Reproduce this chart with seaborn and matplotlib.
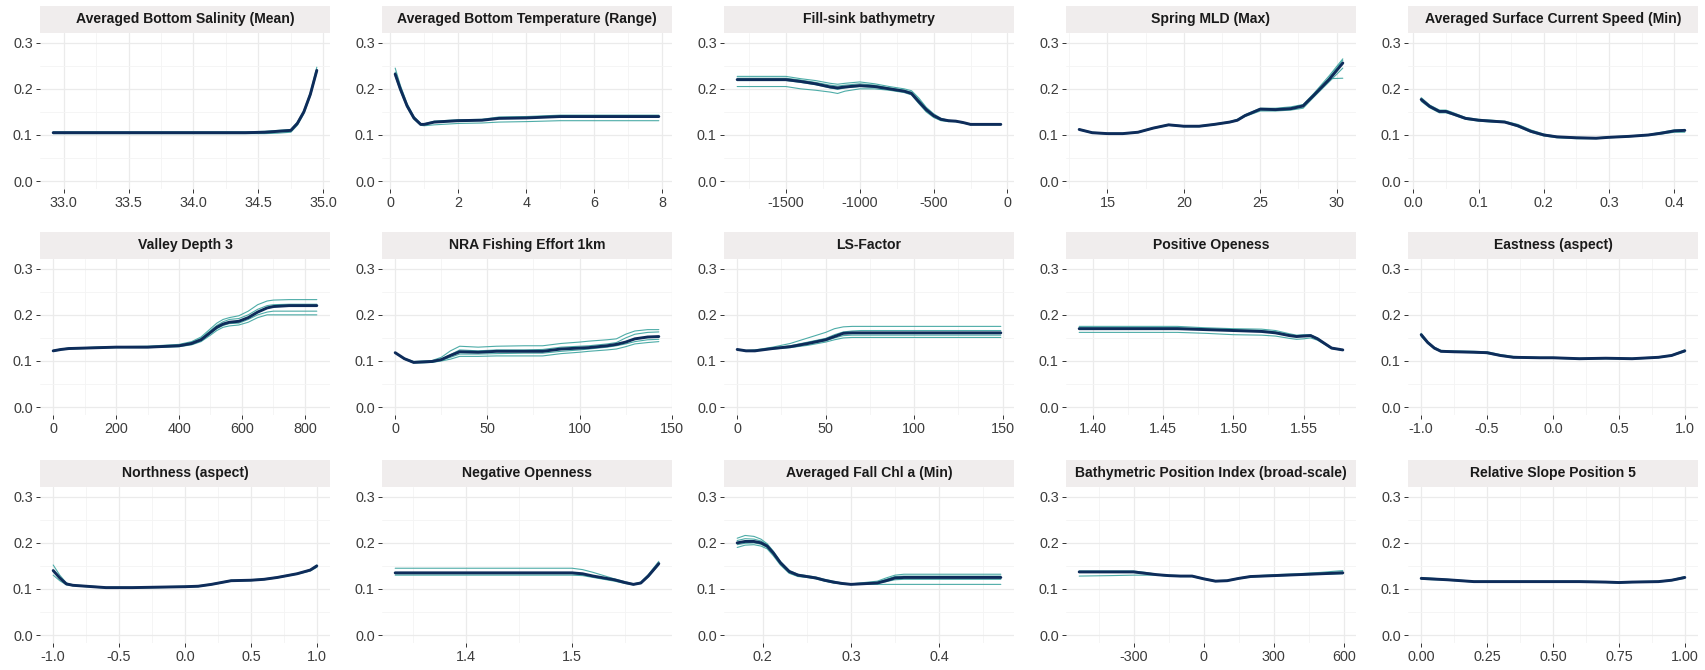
import numpy as np
import pandas as pd
import matplotlib
matplotlib.use("Agg")
import matplotlib.pyplot as plt
import seaborn as sns

# ---------------- data: partial dependence curves (fit + bootstrap runs) ----------------
sal_x = [32.92, 33.2, 33.6, 34.0, 34.4, 34.55, 34.65, 34.75, 34.8, 34.85, 34.9, 34.95]
sal_fit = [0.105, 0.105, 0.105, 0.105, 0.105, 0.106, 0.108, 0.110, 0.125, 0.150, 0.188, 0.240]
sal_boot = [
    [0.107, 0.107, 0.107, 0.107, 0.107, 0.108, 0.110, 0.112, 0.128, 0.153, 0.192, 0.247],
    [0.103, 0.103, 0.103, 0.103, 0.103, 0.103, 0.104, 0.106, 0.121, 0.146, 0.184, 0.236],
    [0.104, 0.104, 0.104, 0.104, 0.104, 0.105, 0.107, 0.109, 0.124, 0.149, 0.187, 0.238],
]

temp_x = [0.15, 0.3, 0.5, 0.7, 0.9, 1.0, 1.3, 2.0, 2.7, 3.2, 4.0, 5.0, 6.0, 7.0, 7.9]
temp_fit = [0.232, 0.200, 0.163, 0.137, 0.123, 0.123, 0.128, 0.131, 0.132, 0.136, 0.137, 0.140, 0.140, 0.140, 0.140]
temp_boot = [
    [0.245, 0.208, 0.168, 0.140, 0.125, 0.124, 0.130, 0.133, 0.134, 0.139, 0.140, 0.143, 0.143, 0.143, 0.143],
    [0.228, 0.196, 0.160, 0.134, 0.121, 0.120, 0.122, 0.125, 0.126, 0.128, 0.129, 0.131, 0.131, 0.131, 0.131],
    [0.236, 0.202, 0.165, 0.138, 0.124, 0.123, 0.128, 0.130, 0.132, 0.137, 0.138, 0.141, 0.141, 0.141, 0.141],
]

bathy_x = [-1830, -1650, -1500, -1400, -1300, -1200, -1150, -1100, -1000, -900, -800, -700,
           -650, -600, -550, -500, -450, -400, -350, -300, -250, -150, -45]
bathy_fit = [0.220, 0.220, 0.220, 0.216, 0.211, 0.204, 0.202, 0.204, 0.207, 0.205, 0.200, 0.195,
             0.190, 0.172, 0.155, 0.142, 0.134, 0.131, 0.130, 0.127, 0.123, 0.123, 0.123]
bathy_boot = [
    [0.227, 0.227, 0.227, 0.222, 0.218, 0.212, 0.210, 0.212, 0.215, 0.211, 0.205, 0.200,
     0.196, 0.180, 0.160, 0.146, 0.136, 0.132, 0.130, 0.127, 0.123, 0.123, 0.123],
    [0.205, 0.205, 0.205, 0.200, 0.197, 0.193, 0.190, 0.195, 0.200, 0.200, 0.197, 0.192,
     0.187, 0.168, 0.150, 0.138, 0.131, 0.129, 0.129, 0.126, 0.122, 0.122, 0.122],
    [0.223, 0.223, 0.223, 0.219, 0.214, 0.208, 0.206, 0.208, 0.211, 0.208, 0.202, 0.197,
     0.193, 0.177, 0.158, 0.144, 0.133, 0.130, 0.129, 0.126, 0.123, 0.123, 0.123],
    [0.218, 0.218, 0.218, 0.214, 0.209, 0.202, 0.199, 0.202, 0.205, 0.204, 0.199, 0.194,
     0.189, 0.174, 0.152, 0.140, 0.132, 0.131, 0.130, 0.127, 0.124, 0.124, 0.124],
]

mld_x = [13.15, 14, 15, 16, 17, 18, 19, 20, 21, 22, 23, 23.5, 24, 25, 26, 27, 27.8, 28.5, 29.5, 30.4]
mld_fit = [0.112, 0.105, 0.103, 0.103, 0.106, 0.115, 0.122, 0.119, 0.119, 0.123, 0.128, 0.132,
           0.142, 0.156, 0.155, 0.157, 0.163, 0.186, 0.220, 0.256]
mld_boot = [
    [0.113, 0.106, 0.104, 0.104, 0.107, 0.116, 0.123, 0.120, 0.120, 0.124, 0.129, 0.134,
     0.144, 0.158, 0.158, 0.161, 0.166, 0.190, 0.228, 0.265],
    [0.111, 0.104, 0.102, 0.102, 0.105, 0.114, 0.121, 0.118, 0.118, 0.122, 0.127, 0.131,
     0.140, 0.152, 0.152, 0.154, 0.158, 0.182, 0.215, 0.245],
    [0.112, 0.105, 0.103, 0.103, 0.106, 0.115, 0.122, 0.119, 0.119, 0.123, 0.128, 0.133,
     0.143, 0.155, 0.156, 0.159, 0.165, 0.188, 0.222, 0.223],
    [0.112, 0.105, 0.103, 0.103, 0.106, 0.115, 0.122, 0.119, 0.119, 0.123, 0.128, 0.132,
     0.141, 0.154, 0.154, 0.156, 0.161, 0.184, 0.224, 0.262],
]

cur_x = [0.012, 0.025, 0.04, 0.05, 0.06, 0.08, 0.1, 0.12, 0.14, 0.16, 0.18, 0.2, 0.22, 0.25,
         0.28, 0.3, 0.33, 0.36, 0.38, 0.4, 0.416]
cur_fit = [0.177, 0.162, 0.151, 0.151, 0.146, 0.136, 0.132, 0.130, 0.128, 0.120, 0.108, 0.100,
           0.096, 0.094, 0.093, 0.095, 0.097, 0.100, 0.104, 0.109, 0.110]
cur_boot = [
    [0.181, 0.165, 0.154, 0.154, 0.149, 0.138, 0.134, 0.132, 0.130, 0.123, 0.111, 0.102,
     0.097, 0.095, 0.094, 0.096, 0.098, 0.101, 0.106, 0.111, 0.112],
    [0.173, 0.159, 0.148, 0.148, 0.144, 0.134, 0.130, 0.128, 0.127, 0.118, 0.106, 0.098,
     0.094, 0.092, 0.092, 0.094, 0.096, 0.099, 0.102, 0.106, 0.106],
]

vd_x = [0, 25, 50, 100, 150, 200, 300, 400, 440, 470, 500, 520, 540, 560, 590, 620, 650, 680, 700, 750, 838]
vd_fit = [0.122, 0.125, 0.127, 0.128, 0.129, 0.130, 0.130, 0.133, 0.138, 0.146, 0.162, 0.173,
          0.180, 0.184, 0.186, 0.194, 0.206, 0.215, 0.218, 0.220, 0.220]
vd_boot = [
    [0.123, 0.126, 0.128, 0.129, 0.130, 0.131, 0.132, 0.136, 0.142, 0.152, 0.170, 0.182,
     0.190, 0.194, 0.198, 0.208, 0.222, 0.230, 0.232, 0.233, 0.233],
    [0.121, 0.124, 0.126, 0.127, 0.128, 0.129, 0.129, 0.131, 0.135, 0.142, 0.156, 0.166,
     0.173, 0.176, 0.178, 0.184, 0.194, 0.200, 0.200, 0.200, 0.200],
    [0.122, 0.125, 0.127, 0.128, 0.129, 0.130, 0.130, 0.132, 0.137, 0.144, 0.160, 0.170,
     0.177, 0.181, 0.182, 0.190, 0.200, 0.206, 0.208, 0.208, 0.208],
    [0.122, 0.126, 0.128, 0.129, 0.130, 0.131, 0.131, 0.134, 0.140, 0.149, 0.166, 0.177,
     0.185, 0.190, 0.192, 0.200, 0.212, 0.220, 0.222, 0.223, 0.223],
]

fish_x = [0, 5, 10, 15, 20, 25, 30, 35, 45, 55, 70, 80, 90, 100, 105, 115, 120, 125, 130, 137, 143]
fish_fit = [0.118, 0.105, 0.097, 0.098, 0.099, 0.103, 0.112, 0.120, 0.119, 0.121, 0.121, 0.121,
            0.126, 0.128, 0.129, 0.133, 0.136, 0.141, 0.148, 0.152, 0.153]
fish_boot = [
    [0.118, 0.106, 0.099, 0.100, 0.101, 0.108, 0.122, 0.132, 0.130, 0.132, 0.133, 0.133,
     0.138, 0.141, 0.143, 0.146, 0.148, 0.158, 0.165, 0.168, 0.168],
    [0.118, 0.104, 0.096, 0.096, 0.097, 0.100, 0.104, 0.110, 0.110, 0.111, 0.111, 0.111,
     0.116, 0.119, 0.121, 0.124, 0.126, 0.131, 0.137, 0.140, 0.142],
    [0.118, 0.105, 0.097, 0.098, 0.099, 0.104, 0.114, 0.124, 0.122, 0.124, 0.124, 0.125,
     0.130, 0.132, 0.133, 0.137, 0.140, 0.150, 0.158, 0.162, 0.163],
    [0.118, 0.104, 0.096, 0.097, 0.098, 0.102, 0.108, 0.115, 0.115, 0.116, 0.117, 0.117,
     0.121, 0.124, 0.126, 0.130, 0.133, 0.137, 0.142, 0.146, 0.147],
]

ls_x = [0, 5, 10, 20, 30, 40, 50, 55, 60, 65, 70, 80, 100, 120, 149]
ls_fit = [0.125, 0.122, 0.122, 0.127, 0.131, 0.138, 0.146, 0.153, 0.160, 0.161, 0.161, 0.161, 0.161, 0.161, 0.161]
ls_boot = [
    [0.125, 0.123, 0.124, 0.130, 0.138, 0.150, 0.162, 0.170, 0.174, 0.175, 0.175, 0.175, 0.175, 0.175, 0.175],
    [0.125, 0.122, 0.122, 0.126, 0.129, 0.134, 0.141, 0.146, 0.150, 0.151, 0.151, 0.151, 0.151, 0.151, 0.151],
    [0.125, 0.122, 0.123, 0.127, 0.131, 0.137, 0.144, 0.150, 0.155, 0.156, 0.156, 0.156, 0.156, 0.156, 0.156],
    [0.125, 0.122, 0.123, 0.128, 0.133, 0.141, 0.149, 0.157, 0.163, 0.165, 0.166, 0.166, 0.166, 0.166, 0.166],
]

po_x = [1.39, 1.42, 1.46, 1.48, 1.50, 1.52, 1.53, 1.54, 1.545, 1.55, 1.555, 1.56, 1.565, 1.57, 1.578]
po_fit = [0.170, 0.170, 0.170, 0.168, 0.166, 0.164, 0.161, 0.155, 0.153, 0.154, 0.155, 0.148, 0.138, 0.128, 0.124]
po_boot = [
    [0.175, 0.175, 0.175, 0.172, 0.170, 0.169, 0.166, 0.159, 0.156, 0.157, 0.157, 0.150, 0.139, 0.129, 0.124],
    [0.162, 0.162, 0.162, 0.160, 0.157, 0.156, 0.154, 0.149, 0.147, 0.148, 0.150, 0.145, 0.136, 0.127, 0.123],
    [0.172, 0.172, 0.172, 0.170, 0.168, 0.166, 0.163, 0.157, 0.154, 0.155, 0.156, 0.149, 0.137, 0.127, 0.124],
]

east_x = [-1, -0.95, -0.9, -0.85, -0.75, -0.6, -0.5, -0.4, -0.3, -0.1, 0, 0.2, 0.4, 0.6, 0.8, 0.9, 1.0]
east_fit = [0.157, 0.140, 0.128, 0.121, 0.120, 0.119, 0.118, 0.112, 0.108, 0.107, 0.107, 0.105,
            0.106, 0.105, 0.108, 0.112, 0.122]
east_boot = [
    [0.160, 0.142, 0.130, 0.123, 0.122, 0.121, 0.120, 0.114, 0.110, 0.108, 0.108, 0.106,
     0.107, 0.106, 0.109, 0.113, 0.124],
    [0.153, 0.138, 0.126, 0.120, 0.119, 0.118, 0.116, 0.111, 0.107, 0.106, 0.106, 0.104,
     0.105, 0.104, 0.107, 0.111, 0.120],
]

north_x = [-1, -0.95, -0.9, -0.85, -0.7, -0.6, -0.4, -0.2, 0, 0.1, 0.2, 0.35, 0.5, 0.6, 0.7, 0.85, 0.95, 1.0]
north_fit = [0.140, 0.124, 0.111, 0.108, 0.105, 0.103, 0.103, 0.104, 0.105, 0.106, 0.110, 0.118,
             0.119, 0.121, 0.125, 0.133, 0.141, 0.150]
north_boot = [
    [0.152, 0.130, 0.113, 0.109, 0.106, 0.104, 0.104, 0.105, 0.106, 0.107, 0.111, 0.119,
     0.120, 0.122, 0.126, 0.134, 0.142, 0.152],
    [0.130, 0.118, 0.109, 0.107, 0.104, 0.102, 0.102, 0.103, 0.104, 0.105, 0.109, 0.117,
     0.118, 0.120, 0.124, 0.132, 0.139, 0.147],
]

no_x = [1.333, 1.40, 1.45, 1.50, 1.51, 1.52, 1.53, 1.54, 1.55, 1.558, 1.565, 1.572, 1.582]
no_fit = [0.135, 0.135, 0.135, 0.135, 0.133, 0.128, 0.124, 0.120, 0.114, 0.110, 0.113, 0.128, 0.155]
no_boot = [
    [0.145, 0.145, 0.145, 0.145, 0.142, 0.136, 0.129, 0.122, 0.116, 0.111, 0.115, 0.131, 0.160],
    [0.130, 0.130, 0.130, 0.130, 0.129, 0.125, 0.121, 0.117, 0.112, 0.109, 0.112, 0.126, 0.152],
    [0.133, 0.133, 0.133, 0.133, 0.131, 0.127, 0.123, 0.119, 0.113, 0.110, 0.114, 0.129, 0.157],
]

chl_x = [0.171, 0.18, 0.19, 0.198, 0.205, 0.212, 0.22, 0.23, 0.24, 0.25, 0.26, 0.27, 0.28, 0.29,
         0.3, 0.31, 0.32, 0.33, 0.34, 0.35, 0.36, 0.40, 0.47]
chl_fit = [0.200, 0.203, 0.203, 0.200, 0.193, 0.178, 0.157, 0.138, 0.130, 0.127, 0.124, 0.119,
           0.115, 0.112, 0.110, 0.111, 0.112, 0.113, 0.118, 0.124, 0.125, 0.125, 0.125]
chl_boot = [
    [0.210, 0.216, 0.214, 0.208, 0.198, 0.182, 0.160, 0.140, 0.132, 0.129, 0.126, 0.121,
     0.117, 0.113, 0.111, 0.113, 0.115, 0.117, 0.124, 0.130, 0.132, 0.132, 0.132],
    [0.190, 0.195, 0.196, 0.193, 0.187, 0.172, 0.152, 0.134, 0.127, 0.125, 0.122, 0.117,
     0.113, 0.111, 0.110, 0.110, 0.110, 0.110, 0.110, 0.110, 0.110, 0.110, 0.110],
    [0.205, 0.209, 0.208, 0.204, 0.196, 0.180, 0.158, 0.136, 0.129, 0.127, 0.124, 0.118,
     0.114, 0.111, 0.110, 0.111, 0.113, 0.115, 0.121, 0.127, 0.128, 0.128, 0.128],
    [0.196, 0.199, 0.200, 0.197, 0.190, 0.175, 0.155, 0.135, 0.128, 0.126, 0.123, 0.118,
     0.114, 0.111, 0.110, 0.111, 0.112, 0.113, 0.116, 0.120, 0.121, 0.121, 0.121],
]

bpi_x = [-533, -400, -300, -250, -200, -150, -100, -50, 0, 50, 100, 150, 200, 300, 400, 500, 595]
bpi_fit = [0.137, 0.137, 0.137, 0.134, 0.131, 0.129, 0.128, 0.128, 0.122, 0.117, 0.118, 0.123,
           0.127, 0.129, 0.131, 0.133, 0.135]
bpi_boot = [
    [0.128, 0.129, 0.130, 0.130, 0.130, 0.128, 0.128, 0.128, 0.122, 0.117, 0.118, 0.123,
     0.127, 0.129, 0.131, 0.134, 0.137],
    [0.139, 0.139, 0.139, 0.136, 0.132, 0.130, 0.129, 0.129, 0.123, 0.118, 0.119, 0.124,
     0.128, 0.131, 0.133, 0.136, 0.140],
    [0.136, 0.136, 0.136, 0.133, 0.130, 0.128, 0.127, 0.127, 0.121, 0.116, 0.117, 0.122,
     0.126, 0.128, 0.130, 0.132, 0.133],
]

rsp_x = [0, 0.1, 0.2, 0.3, 0.4, 0.5, 0.6, 0.7, 0.75, 0.8, 0.9, 0.95, 1.0]
rsp_fit = [0.123, 0.120, 0.116, 0.116, 0.116, 0.116, 0.116, 0.115, 0.114, 0.115, 0.116, 0.119, 0.125]
rsp_boot = [
    [0.125, 0.121, 0.117, 0.117, 0.117, 0.117, 0.117, 0.116, 0.115, 0.116, 0.117, 0.120, 0.127],
    [0.121, 0.119, 0.115, 0.115, 0.115, 0.115, 0.115, 0.114, 0.113, 0.114, 0.115, 0.118, 0.123],
]

titles = [
    "Averaged Bottom Salinity (Mean)", "Averaged Bottom Temperature (Range)", "Fill-sink bathymetry",
    "Spring MLD (Max)", "Averaged Surface Current Speed (Min)",
    "Valley Depth 3", "NRA Fishing Effort 1km", "LS-Factor", "Positive Openess", "Eastness (aspect)",
    "Northness (aspect)", "Negative Openness", "Averaged Fall Chl a (Min)",
    "Bathymetric Position Index (broad-scale)", "Relative Slope Position 5",
]

x_breaks = [
    [33.0, 33.5, 34.0, 34.5, 35.0], [0, 2, 4, 6, 8], [-1500, -1000, -500, 0], [15, 20, 25, 30],
    [0.0, 0.1, 0.2, 0.3, 0.4],
    [0, 200, 400, 600, 800], [0, 50, 100, 150], [0, 50, 100, 150], [1.40, 1.45, 1.50, 1.55],
    [-1.0, -0.5, 0.0, 0.5, 1.0],
    [-1.0, -0.5, 0.0, 0.5, 1.0], [1.4, 1.5], [0.2, 0.3, 0.4], [-300, 0, 300, 600],
    [0.00, 0.25, 0.50, 0.75, 1.00],
]
x_labels = [
    ["33.0", "33.5", "34.0", "34.5", "35.0"], ["0", "2", "4", "6", "8"],
    ["-1500", "-1000", "-500", "0"], ["15", "20", "25", "30"], ["0.0", "0.1", "0.2", "0.3", "0.4"],
    ["0", "200", "400", "600", "800"], ["0", "50", "100", "150"], ["0", "50", "100", "150"],
    ["1.40", "1.45", "1.50", "1.55"], ["-1.0", "-0.5", "0.0", "0.5", "1.0"],
    ["-1.0", "-0.5", "0.0", "0.5", "1.0"], ["1.4", "1.5"], ["0.2", "0.3", "0.4"],
    ["-300", "0", "300", "600"], ["0.00", "0.25", "0.50", "0.75", "1.00"],
]
y_breaks = [0.0, 0.1, 0.2, 0.3]
y_labels = ["0.0", "0.1", "0.2", "0.3"]

curves = [
    (sal_x, sal_fit, sal_boot), (temp_x, temp_fit, temp_boot), (bathy_x, bathy_fit, bathy_boot),
    (mld_x, mld_fit, mld_boot), (cur_x, cur_fit, cur_boot),
    (vd_x, vd_fit, vd_boot), (fish_x, fish_fit, fish_boot), (ls_x, ls_fit, ls_boot),
    (po_x, po_fit, po_boot), (east_x, east_fit, east_boot),
    (north_x, north_fit, north_boot), (no_x, no_fit, no_boot), (chl_x, chl_fit, chl_boot),
    (bpi_x, bpi_fit, bpi_boot), (rsp_x, rsp_fit, rsp_boot),
]

# ---------------- styling ----------------
sns.set_theme(style="white")
plt.rcParams["font.family"] = ["Liberation Sans", "DejaVu Sans"]

FIT_COLOR = "#0E2C5A"
BOOT_COLOR = "#3AA39E"
GRID_MAJOR = "#EBEBEB"
GRID_MINOR = "#F4F4F4"
STRIP_BG = "#F0EDED"
TEXT_COLOR = "#3D3D3D"

W, H = 1706, 670
fig = plt.figure(figsize=(W / 100, H / 100), dpi=100)
fig.patch.set_facecolor("white")

col_left = [40, 382, 724, 1066, 1408]
panel_w = 290
row_top = [33, 259, 487]
panel_h = 156
strip_h = 27


def minor_breaks(breaks):
    b = list(breaks)
    step = b[1] - b[0]
    ext = [b[0] - step] + b + [b[-1] + step]
    return [(ext[i] + ext[i + 1]) / 2 for i in range(len(ext) - 1)]


for i, (xs, fit, boots) in enumerate(curves):
    r, c = divmod(i, 5)
    left = col_left[c]
    top = row_top[r]
    ax = fig.add_axes([left / W, 1 - (top + panel_h) / H, panel_w / W, panel_h / H])
    sax = fig.add_axes([left / W, 1 - top / H, panel_w / W, strip_h / H])

    # bootstrap runs
    long = pd.DataFrame({
        "x": np.concatenate([xs] * len(boots)),
        "y": np.concatenate(boots),
        "run": np.repeat(np.arange(len(boots)), len(xs)),
    })
    sns.lineplot(data=long, x="x", y="y", units="run", estimator=None, color=BOOT_COLOR,
                 lw=0.8, alpha=0.9, ax=ax, legend=False)
    # fitted curve
    sns.lineplot(x=xs, y=fit, color=FIT_COLOR, lw=2.1, ax=ax, legend=False, zorder=5)

    xmin, xmax = min(xs), max(xs)
    pad = (xmax - xmin) * 0.05

    ax.set_xticks(x_breaks[i])
    ax.set_xticklabels(x_labels[i])
    ax.set_xticks(minor_breaks(x_breaks[i]), minor=True)
    ax.set_yticks(y_breaks)
    ax.set_yticklabels(y_labels)
    ax.set_yticks([0.05, 0.15, 0.25], minor=True)
    ax.set_xlim(xmin - pad, xmax + pad)
    ax.set_ylim(-0.017, 0.321)

    ax.grid(True, which="major", color=GRID_MAJOR, lw=0.9)
    ax.grid(True, which="minor", color=GRID_MINOR, lw=0.6)
    ax.set_axisbelow(True)
    for s in ax.spines.values():
        s.set_visible(False)
    ax.tick_params(which="major", axis="both", length=3.2, width=0.7, color="#333333",
                   labelsize=10.4, labelcolor=TEXT_COLOR, pad=2, bottom=True, left=True)
    ax.tick_params(which="minor", length=0)
    ax.set_xlabel("")
    ax.set_ylabel("")

    sax.set_facecolor(STRIP_BG)
    sax.set_xticks([])
    sax.set_yticks([])
    for s in sax.spines.values():
        s.set_visible(False)
    sax.text(0.5, 0.5, titles[i], ha="center", va="center", fontsize=10.1,
             fontweight="bold", color="#1A1A1A", transform=sax.transAxes)

fig.savefig("out.png", dpi=100, facecolor="white")
